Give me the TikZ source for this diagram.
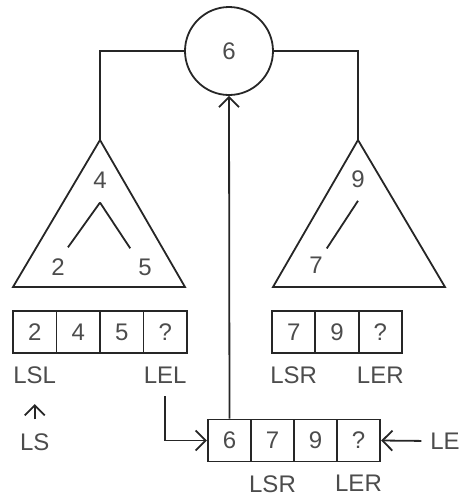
\documentclass[tikz,border=0pt]{standalone}
\usepackage{fontspec}
\setmainfont{Liberation Sans}
\usetikzlibrary{positioning, arrows.meta}

\tikzset{
  cell/.style={draw, minimum width=21.75pt, minimum height=21pt, inner sep=0pt},
  lbl/.style={inner sep=0pt},
  arr/.style={-{Straight Barb[length=5pt, width=10pt]}},
}

\begin{document}
\begin{tikzpicture}[x=0.5pt, y=-0.5pt, line width=0.9pt, color=black!85, text=black!70,
    font=\fontsize{12}{14}\selectfont]

	\useasboundingbox (0,0) rectangle (461,495);

	% Root and the two subtrees
	\node[draw, circle, minimum size=44pt, inner sep=0pt] (root) at (229,51) {6};
	\coordinate (apexL) at (100,140);
	\coordinate (apexR) at (358,140);
	\draw (root.west) -| (apexL);
	\draw (root.east) -| (apexR);
	\draw (apexL) -- (13,287) -- (185,287) -- cycle;
	\draw (apexR) -- (273,287) -- (445,287) -- cycle;

	% Keys inside the triangles
	\foreach \name/\x/\y/\val in {n4/100/180/4, n2/58/267/2, n5/145/267/5, n9/358/179/9, n7/316/265/7} {
			\node[lbl] (\name) at (\x,\y) {\val};
		}
	\draw ([yshift=-6.7pt]n4.south) -- ([xshift=1.2pt, yshift=5.2pt]n2.north east);
	\draw ([yshift=-6.7pt]n4.south) -- ([xshift=-3.6pt, yshift=4.7pt]n5.north west);
	\draw ([yshift=-6.2pt]n9.south) -- ([xshift=1.6pt, yshift=3.7pt]n7.north east);

	% Arrays of the left, right and merged lists
	\foreach \i/\x/\val in {1/34.75/2, 2/78.25/4, 3/121.75/5, 4/165.25/?} {
			\node[cell] (L\i) at (\x,332) {\val};
		}
	\foreach \i/\x/\val in {1/293.7/7, 2/337/9, 3/380.3/?} {
			\node[cell] (R\i) at (\x,332) {\val};
		}
	\foreach \i/\x/\val in {1/229.5/6, 2/272.5/7, 3/315.5/9, 4/358.5/?} {
			\node[cell] (B\i) at (\x,440.5) {\val};
		}

	% Pointer labels
	\node[lbl, below=6pt of L1] (LSL) {LSL};
	\node[lbl, below=6pt of L4] (LEL) {LEL};
	\node[lbl, below=6pt of R1] (LSR) {LSR};
	\node[lbl, below=6pt of R3] (LER) {LER};
	\node[lbl, below=6pt of B2] (bLSR) {LSR};
	\node[lbl, below=6pt of B4] (bLER) {LER};
	\node[lbl, below=24pt of LSL] (LS) {LS};
	\node[lbl] (LE) at (445,441) {LE};

	% Arrows
	\draw[arr] (B1.north) -- (root.south);
	\draw[arr, shorten <=6pt] (LEL.south) |- (B1.west);
	\draw[arr, shorten <=6.7pt, shorten >=9.7pt] (LS.north -| LSL.south) -- (LSL.south);
	\draw[arr, shorten <=4pt] (LE.west) -- (B4.east);

\end{tikzpicture}
\end{document}
